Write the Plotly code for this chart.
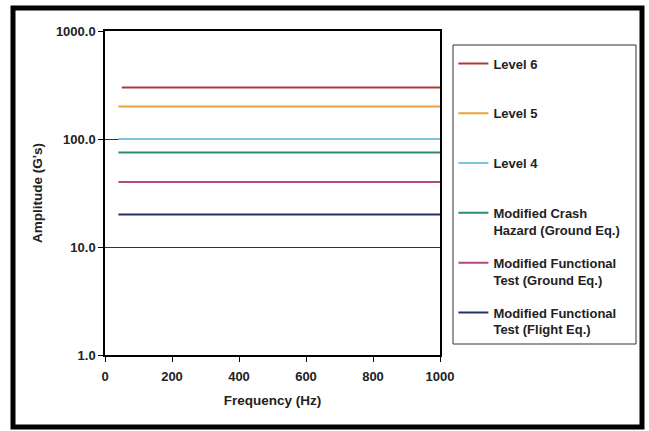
import plotly.graph_objects as go

series_names = [
    "Level 6",
    "Level 5",
    "Level 4",
    "Modified Crash<br>Hazard (Ground Eq.)",
    "Modified Functional<br>Test (Ground Eq.)",
    "Modified Functional<br>Test (Flight Eq.)",
]
series_freq_start = [50, 40, 40, 40, 40, 40]
series_freq_end = [1000, 1000, 1000, 1000, 1000, 1000]
series_amplitude = [300.0, 200.0, 100.0, 75.0, 40.0, 20.0]
series_colors = ["#a83a3c", "#eea23a", "#7cc4e4", "#2f8c70", "#b2487e", "#243068"]

y_tick_vals = [1, 10, 100, 1000]
y_tick_text = ["1.0", "10.0", "100.0", "1000.0"]
x_tick_vals = [0, 200, 400, 600, 800, 1000]

FONT = "Liberation Sans, Arial, sans-serif"

fig = go.Figure()
for i, name in enumerate(series_names):
    label = name if "<br>" in name else name + "<br>\u00a0"
    fig.add_trace(go.Scatter(
        x=[series_freq_start[i], series_freq_end[i]],
        y=[series_amplitude[i], series_amplitude[i]],
        mode="lines",
        name=label,
        legendgroup=str(i),
        line=dict(color=series_colors[i], width=2),
    ))

fig.update_layout(
    width=649, height=431,
    margin=dict(l=105, r=209, t=31, b=76),
    paper_bgcolor="white", plot_bgcolor="white",
    font=dict(family=FONT, size=13, color="#222222"),
    showlegend=True,
    legend=dict(
        x=1.04, y=0.946, xanchor="left", yanchor="top",
        font=dict(family=FONT, size=13, color="#222222", weight="bold"),
        bgcolor="rgba(0,0,0,0)", borderwidth=0,
        tracegroupgap=13, valign="top",
        itemwidth=30,
    ),
    xaxis=dict(
        range=[0, 1000], tickvals=x_tick_vals,
        ticks="outside", ticklen=5, tickcolor="black",
        showline=True, linecolor="black", linewidth=1.5, mirror=True,
        showgrid=False, zeroline=False,
        ticklabelstandoff=4,
        tickfont=dict(family=FONT, size=13, weight="bold"),
        title=dict(text="<b>Frequency (Hz)</b>", font=dict(family=FONT, size=13.5), standoff=12),
    ),
    yaxis=dict(
        type="log", range=[0, 3],
        tickvals=y_tick_vals, ticktext=y_tick_text,
        ticks="outside", ticklen=5, tickcolor="black",
        showline=True, linecolor="black", linewidth=1.5, mirror=True,
        showgrid=True, gridcolor="#333333", gridwidth=1,
        zeroline=False,
        tickfont=dict(family=FONT, size=13, weight="bold"),
        title=dict(text="<b>Amplitude (G's)</b>", font=dict(family=FONT, size=13.5), standoff=10),
    ),
    shapes=[
        dict(type="rect", xref="paper", yref="paper",
             x0=(453 - 105) / 335, x1=(636 - 105) / 335,
             y0=(355 - 344) / 324, y1=(355 - 45) / 324,
             line=dict(color="#333333", width=1), fillcolor="rgba(0,0,0,0)", layer="below"),
        dict(type="rect", xref="paper", yref="paper",
             x0=(13 - 105) / 335, x1=(642 - 105) / 335,
             y0=(355 - 427) / 324, y1=(355 - 8) / 324,
             line=dict(color="black", width=5), fillcolor="rgba(0,0,0,0)"),
    ],
)

fig.write_html("out.html", config={"displayModeBar": False},
               post_script="document.body.style.margin='0';")
